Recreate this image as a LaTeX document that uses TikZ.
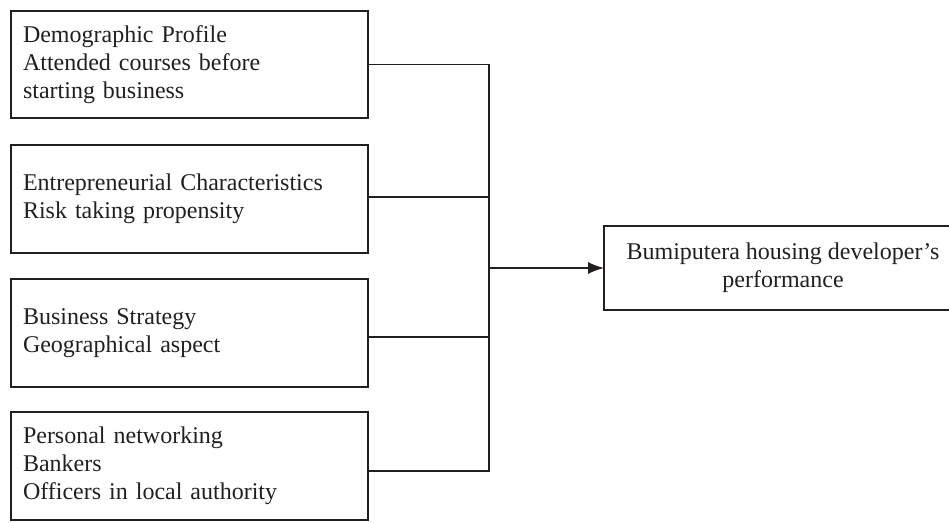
\documentclass[tikz,border=0pt]{standalone}
\usepackage{fontspec}
\setmainfont{Liberation Serif}
\usetikzlibrary{arrows.meta}
\definecolor{ink}{RGB}{35,31,32}
\begin{document}
\begin{tikzpicture}[x=1pt,y=-1pt,
  every node/.style={font=\fontsize{24}{28}\selectfont, text=ink},
  factor/.style={draw=ink, line width=1.3pt, rectangle, outer sep=0pt,
    minimum width=357pt, minimum height=108pt, inner xsep=12pt, inner ysep=0pt,
    text width=333pt, align=left},
  result/.style={draw=ink, line width=1.3pt, rectangle, outer sep=0pt,
    minimum width=358pt, minimum height=84pt, align=center},
  link/.style={draw=ink, line width=1.3pt}]
\useasboundingbox (0,0) rectangle (949,522);
\node[factor, minimum height=107pt] (b1) at (189.5,64.5) {Demographic Profile\\Attended courses before\\starting business};
\node[factor] (b2) at (189.5,199) {Entrepreneurial Characteristics\\Risk taking propensity\\[-4pt]};
\node[factor] (b3) at (189.5,333) {Business Strategy\\Geographical aspect\\[-4pt]};
\node[factor] (b4) at (189.5,466) {Personal networking\\Bankers\\Officers in local authority};
\node[result] (r) at (783,268) {Bumiputera housing developer’s\\performance};
\coordinate (j) at (489,268);
\draw[link] (b1.east) -| (j);
\draw[link] ([yshift=2pt]b2.east) -- ([yshift=2pt]b2.east -| j);
\draw[link] ([yshift=-4pt]b3.east) -- ([yshift=-4pt]b3.east -| j);
\draw[link] ([yshift=-5pt]b4.east) -| (j);
\draw[link, -{Latex[length=16pt,width=12pt]}] (j) -- (r.west);
\end{tikzpicture}
\end{document}
